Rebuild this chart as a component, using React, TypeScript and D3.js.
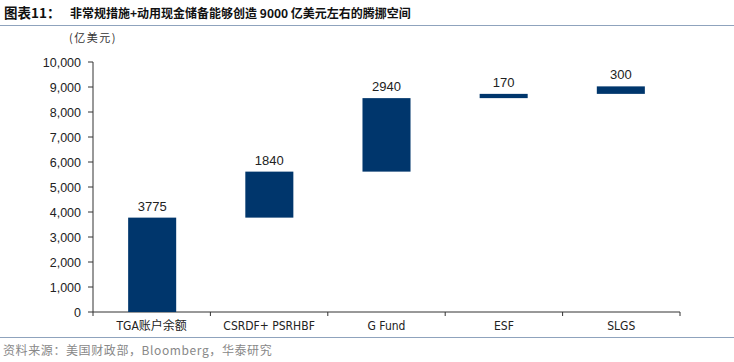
import React from "react";
import * as d3 from "d3";

const categories = ["TGA账户余额", "CSRDF+ PSRHBF", "G Fund", "ESF", "SLGS"];
const values = [3775, 1840, 2940, 170, 300];
const yTicks = [0, 1000, 2000, 3000, 4000, 5000, 6000, 7000, 8000, 9000, 10000];

const W = 734, H = 362;
const left = 93, right = 680, top = 62, bottom = 312;

export default function App() {
  const x = d3.scaleBand<string>().domain(categories).range([left, right]).paddingInner(0.59).paddingOuter(0.3);
  const band = d3.scaleBand<string>().domain(categories).range([left, right]);
  const y = d3.scaleLinear().domain([0, 10000]).range([bottom, top]);
  let cum = 0;
  const bars = values.map((v, i) => {
    const s = cum;
    cum += v;
    return { c: categories[i], v, s, e: cum };
  });
  const fmt = d3.format(",");
  const cjk = "'Noto Sans CJK SC', 'Liberation Sans', Arial, sans-serif";
  return (
    <svg width={W} height={H} style={{ position: "absolute", left: 0, top: 0, background: "#fff" }}>
      <text x={4} y={18} fontSize={13.5} fontWeight="bold" fontFamily={cjk} fill="#111">图表11：</text>
      <text x={70} y={18} fontSize={12} fontWeight="bold" fontFamily={cjk} fill="#111">
        非常规措施+动用现金储备能够创造 9000 亿美元左右的腾挪空间
      </text>
      <line x1={0} x2={W} y1={25.5} y2={25.5} stroke="#8fa3bd" strokeWidth={1.2} />
      <text x={93} y={42} fontSize={11} letterSpacing={1.5} textAnchor="middle" fontFamily={cjk} fill="#333">(亿美元)</text>
      {yTicks.map((t) => (
        <g key={t}>
          <line x1={left - 5} x2={left} y1={y(t)} y2={y(t)} stroke="#333" />
          <text x={left - 12} y={y(t) + 4.5} fontSize={12.5} textAnchor="end" fontFamily="'Liberation Sans', Arial, sans-serif" fill="#222">{fmt(t)}</text>
        </g>
      ))}
      <line x1={left} x2={left} y1={top} y2={bottom} stroke="#333" />
      <line x1={left} x2={right} y1={bottom} y2={bottom} stroke="#333" />
      {[...categories.map((c) => band(c) as number), right].map((px, i) => (
        <line key={i} x1={px} x2={px} y1={bottom} y2={bottom + 4} stroke="#333" />
      ))}
      {bars.map((b) => (
        <g key={b.c}>
          <rect x={x(b.c)} width={x.bandwidth()} y={y(b.e)} height={y(b.s) - y(b.e)} fill="#00366c" />
          <text x={(x(b.c) as number) + x.bandwidth() / 2} y={y(b.e) - 7} fontSize={13} textAnchor="middle" fontFamily="'Liberation Sans', Arial, sans-serif" fill="#222">{b.v}</text>
          <text x={(band(b.c) as number) + band.bandwidth() / 2} y={330} fontSize={12} textAnchor="middle" fontFamily="'Liberation Sans Narrow', 'DejaVu Sans Condensed', 'Noto Sans CJK SC', sans-serif" fill="#222">{b.c}</text>
        </g>
      ))}
      <line x1={0} x2={W} y1={337.5} y2={337.5} stroke="#8fa3bd" strokeWidth={1.2} />
      <text x={3} y={355} fontSize={12} letterSpacing={0.6} fontFamily={cjk} fill="#888">资料来源：美国财政部，Bloomberg，华泰研究</text>
    </svg>
  );
}
